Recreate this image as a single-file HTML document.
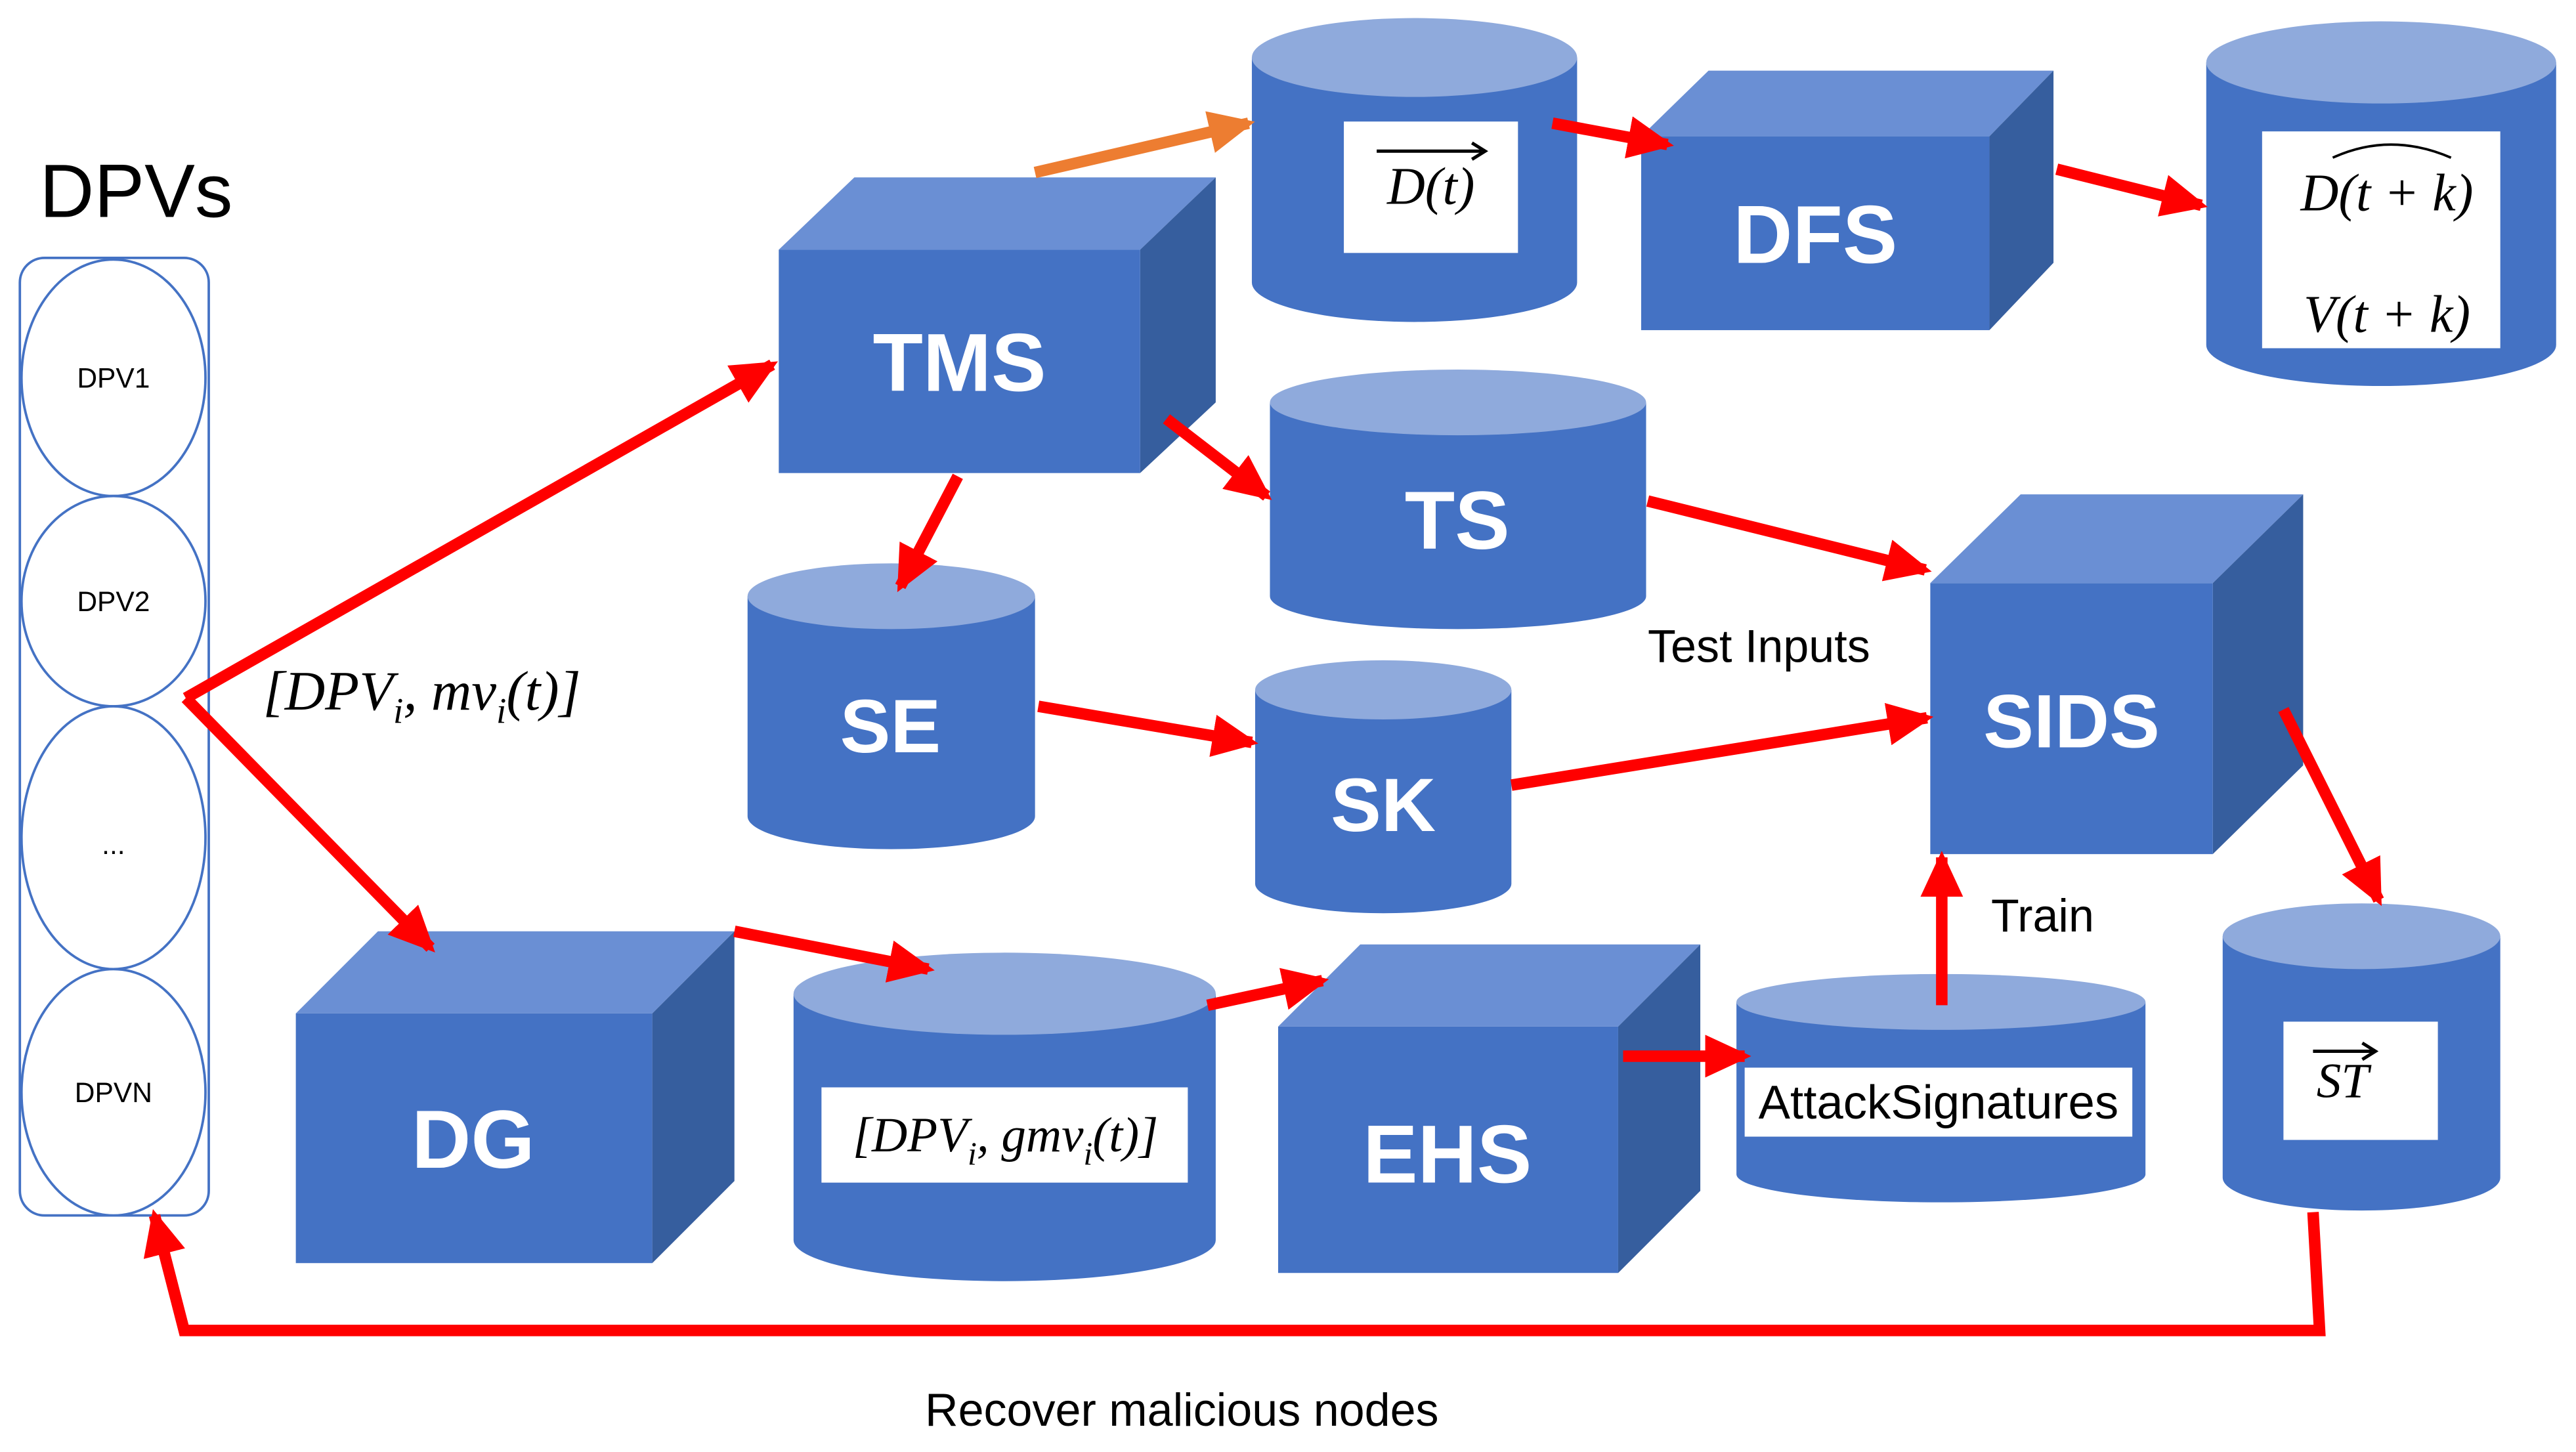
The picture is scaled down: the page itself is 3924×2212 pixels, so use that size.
<!DOCTYPE html>
<html><head><meta charset="utf-8"><style>
html,body{margin:0;padding:0;background:#fff;}
svg{display:block;}
.lbl{font-family:"Liberation Sans",sans-serif;font-weight:bold;fill:#fff;text-anchor:middle;}
.m{font-family:"Liberation Serif",serif;font-style:italic;fill:#000;}
.t{font-family:"Liberation Sans",sans-serif;fill:#000;}
</style></head><body>
<svg width="3924" height="2212" viewBox="0 0 1568 884" xmlns="http://www.w3.org/2000/svg">
<defs>
<marker id="ah" markerUnits="userSpaceOnUse" markerWidth="28" markerHeight="26" refX="24" refY="13" orient="auto"><path d="M0,0 L28,13 L0,26 z" fill="#FF0000"/></marker>
<marker id="ao" markerUnits="userSpaceOnUse" markerWidth="28" markerHeight="26" refX="24" refY="13" orient="auto"><path d="M0,0 L28,13 L0,26 z" fill="#ED7D31"/></marker>
</defs>
<rect width="1568" height="884" fill="#fff"/>
<text x="24" y="132" class="t" font-size="46">DPVs</text>
<rect x="12" y="157" width="115" height="583" rx="15" fill="#fff" stroke="#4472C4" stroke-width="1.5"/>
<g fill="#fff" stroke="#4472C4" stroke-width="1.5">
<ellipse cx="69" cy="230" rx="56" ry="72"/>
<ellipse cx="69" cy="366" rx="56" ry="64"/>
<ellipse cx="69" cy="510" rx="56" ry="80"/>
<ellipse cx="69" cy="665" rx="56" ry="75"/>
</g>
<g class="t" font-size="17" text-anchor="middle">
<text x="69" y="236">DPV1</text><text x="69" y="372">DPV2</text><text x="69" y="520">...</text><text x="69" y="671">DPVN</text>
</g>

<!-- cubes -->
<g>
<!-- TMS -->
<polygon points="474,152 520,108 740,108 694,152" fill="#6A8FD4"/>
<polygon points="694,152 740,108 740,245 694,288" fill="#365E9E"/>
<rect x="474" y="152" width="220" height="136" fill="#4472C4"/>
<text x="584" y="238" class="lbl" font-size="50">TMS</text>
<!-- DFS -->
<polygon points="999,83 1040,43 1250,43 1211,83" fill="#6A8FD4"/>
<polygon points="1211,83 1250,43 1250,160 1211,201" fill="#365E9E"/>
<rect x="999" y="83" width="212" height="118" fill="#4472C4"/>
<text x="1105" y="160" class="lbl" font-size="50">DFS</text>
<!-- SIDS -->
<polygon points="1175,355 1230,301 1402,301 1347,355" fill="#6A8FD4"/>
<polygon points="1347,355 1402,301 1402,466 1347,520" fill="#365E9E"/>
<rect x="1175" y="355" width="172" height="165" fill="#4472C4"/>
<text x="1261" y="455" class="lbl" font-size="46">SIDS</text>
<!-- DG -->
<polygon points="180,617 230,567 447,567 397,617" fill="#6A8FD4"/>
<polygon points="397,617 447,567 447,719 397,769" fill="#365E9E"/>
<rect x="180" y="617" width="217" height="152" fill="#4472C4"/>
<text x="288" y="711" class="lbl" font-size="50">DG</text>
<!-- EHS -->
<polygon points="778,625 828,575 1035,575 985,625" fill="#6A8FD4"/>
<polygon points="985,625 1035,575 1035,725 985,775" fill="#365E9E"/>
<rect x="778" y="625" width="207" height="150" fill="#4472C4"/>
<text x="881" y="720" class="lbl" font-size="50">EHS</text>
</g>

<!-- cylinders -->
<g>
<path d="M762,35 V172 A99,24 0 0 0 960,172 V35 Z" fill="#4472C4"/><ellipse cx="861" cy="35" rx="99" ry="24" fill="#8FAADC"/>
<rect x="818" y="74" width="106" height="80" fill="#fff"/>
<text x="871" y="124" class="m" font-size="32" text-anchor="middle">D(t)</text>
<line x1="838" y1="92" x2="902" y2="92" stroke="#000" stroke-width="2"/><path d="M896,87 L904,92 L896,97" fill="none" stroke="#000" stroke-width="2"/>

<path d="M1343,38 V210 A106.5,25 0 0 0 1556,210 V38 Z" fill="#4472C4"/><ellipse cx="1449.5" cy="38" rx="106.5" ry="25" fill="#8FAADC"/>
<rect x="1377" y="80" width="145" height="132" fill="#fff"/>
<text x="1453" y="128" class="m" font-size="32" text-anchor="middle">D(t + k)</text>
<path d="M1420,96 Q1455,80 1492,96" fill="none" stroke="#000" stroke-width="1.5"/>
<text x="1453" y="202" class="m" font-size="32" text-anchor="middle">V(t + k)</text>

<path d="M773,245 V363 A114.5,20 0 0 0 1002,363 V245 Z" fill="#4472C4"/><ellipse cx="887.5" cy="245" rx="114.5" ry="20" fill="#8FAADC"/>
<text x="887" y="334" class="lbl" font-size="50">TS</text>

<path d="M455,363 V497 A87.5,20 0 0 0 630,497 V363 Z" fill="#4472C4"/><ellipse cx="542.5" cy="363" rx="87.5" ry="20" fill="#8FAADC"/>
<text x="542" y="458" class="lbl" font-size="46">SE</text>

<path d="M764,420 V538 A78,18 0 0 0 920,538 V420 Z" fill="#4472C4"/><ellipse cx="842" cy="420" rx="78" ry="18" fill="#8FAADC"/>
<text x="842" y="506" class="lbl" font-size="46">SK</text>

<path d="M483,605 V755 A128.5,25 0 0 0 740,755 V605 Z" fill="#4472C4"/><ellipse cx="611.5" cy="605" rx="128.5" ry="25" fill="#8FAADC"/>
<rect x="500" y="662" width="223" height="58" fill="#fff"/>
<text x="612" y="701" class="m" font-size="30" text-anchor="middle">[DPV<tspan font-size="20" dy="8">i</tspan><tspan dy="-8">, gmv</tspan><tspan font-size="20" dy="8">i</tspan><tspan dy="-8">(t)]</tspan></text>

<path d="M1057,610 V715 A124.5,17 0 0 0 1306,715 V610 Z" fill="#4472C4"/><ellipse cx="1181.5" cy="610" rx="124.5" ry="17" fill="#8FAADC"/>
<rect x="1062" y="650" width="236" height="42" fill="#fff"/>
<text x="1180" y="681" class="t" font-size="29" text-anchor="middle">AttackSignatures</text>

<path d="M1353,570 V717 A84.5,20 0 0 0 1522,717 V570 Z" fill="#4472C4"/><ellipse cx="1437.5" cy="570" rx="84.5" ry="20" fill="#8FAADC"/>
<rect x="1390" y="622" width="94" height="72" fill="#fff"/>
<text x="1426" y="668" class="m" font-size="30" text-anchor="middle">ST</text>
<line x1="1408" y1="640" x2="1444" y2="640" stroke="#000" stroke-width="2"/><path d="M1438,635 L1446,640 L1438,645" fill="none" stroke="#000" stroke-width="2"/>
</g>

<!-- arrows -->
<g stroke="#FF0000" stroke-width="7" fill="none" marker-end="url(#ah)">
<line x1="113" y1="425" x2="470" y2="222"/>
<line x1="113" y1="425" x2="262" y2="577"/>
<line x1="583" y1="290" x2="548" y2="357"/>
<line x1="710" y1="255" x2="771" y2="302"/>
<line x1="945" y1="75" x2="1015" y2="88"/>
<line x1="1252" y1="103" x2="1340" y2="125"/>
<line x1="1003" y1="305" x2="1172" y2="347"/>
<line x1="632" y1="430" x2="762" y2="452"/>
<line x1="920" y1="478" x2="1173" y2="437"/>
<line x1="1390" y1="432" x2="1448" y2="548"/>
<line x1="447" y1="567" x2="565" y2="590"/>
<line x1="735" y1="612" x2="805" y2="597"/>
<line x1="988" y1="643" x2="1062" y2="643"/>
<line x1="1182" y1="612" x2="1182" y2="522"/>
<polyline points="1408,738 1412,810 112,810 94,740"/>
</g>
<line x1="630" y1="105" x2="760" y2="75" stroke="#ED7D31" stroke-width="7" marker-end="url(#ao)"/>

<text x="160" y="432" class="m" font-size="34">[DPV<tspan font-size="22" dy="8">i</tspan><tspan dy="-8">, mv</tspan><tspan font-size="22" dy="8">i</tspan><tspan dy="-8">(t)]</tspan></text>
<text x="1003" y="403" class="t" font-size="28">Test Inputs</text>
<text x="1212" y="567" class="t" font-size="28">Train</text>
<text x="563" y="868" class="t" font-size="28">Recover malicious nodes</text>
</svg>
</body></html>
